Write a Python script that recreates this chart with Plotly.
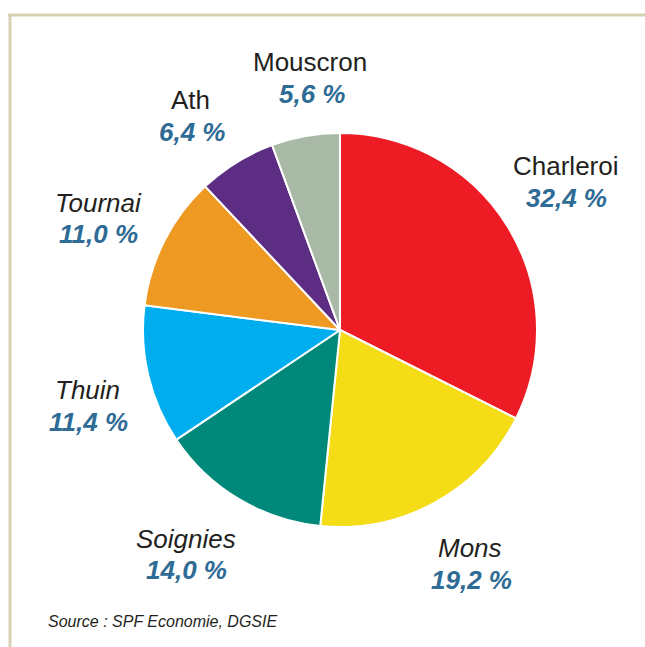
import plotly.graph_objects as go

# Data
regions = ["Charleroi", "Mons", "Soignies", "Thuin", "Tournai", "Ath", "Mouscron"]
shares = [32.4, 19.2, 14.0, 11.4, 11.0, 6.4, 5.6]
italic_names = [False, True, True, True, True, False, False]
colors = ["#ed1c24", "#f4dc17", "#00897b", "#00aeef", "#ee9a22", "#5c2d82", "#a8b9a6"]

# Label placement (pixel centres: name, percentage)
W, H = 645, 647
label_pos = {
    "Charleroi": ((566, 166), (566, 198)),
    "Mons": ((470, 548), (471, 580)),
    "Soignies": ((186, 539), (186, 570)),
    "Thuin": ((87, 390), (88, 422)),
    "Tournai": ((98, 203), (98, 234)),
    "Ath": ((190, 100), (192, 132)),
    "Mouscron": ((310, 62), (312, 94)),
}

FONT = "Arial, Liberation Sans, sans-serif"
PCT_COLOR = "#2e6b95"

fig = go.Figure(go.Pie(
    labels=regions,
    values=shares,
    sort=False,
    direction="clockwise",
    rotation=0,
    marker=dict(colors=colors, line=dict(color="white", width=2)),
    textinfo="none",
    hoverinfo="label+percent",
    domain=dict(x=[(340 - 197) / W, (340 + 197) / W], y=[1 - 527 / H, 1 - 133 / H]),
    showlegend=False,
))

annotations = []
for name, val, ital in zip(regions, shares, italic_names):
    (nx, ny), (px, py) = label_pos[name]
    txt = f"<i>{name}</i>" if ital else name
    annotations.append(dict(
        x=nx / W, y=1 - ny / H, xref="paper", yref="paper", text=txt,
        showarrow=False, xanchor="center", yanchor="middle",
        font=dict(family=FONT, size=26, color="#231f20"),
    ))
    pct = f"{val:.1f}".replace(".", ",") + " %"
    annotations.append(dict(
        x=px / W, y=1 - py / H, xref="paper", yref="paper", text=f"<b><i>{pct}</i></b>",
        showarrow=False, xanchor="center", yanchor="middle",
        font=dict(family=FONT, size=26, color=PCT_COLOR),
    ))

annotations.append(dict(
    x=46 / W, y=1 - 621 / H, xref="paper", yref="paper",
    text="<i>Source : SPF Economie, DGSIE</i>", showarrow=False,
    xanchor="left", yanchor="middle",
    font=dict(family=FONT, size=16, color="#231f20"),
))

border = "#d6d2b4"
shapes = [
    dict(type="line", xref="paper", yref="paper", x0=8 / W, x1=1, y0=1 - 15 / H, y1=1 - 15 / H,
         line=dict(color=border, width=3)),
    dict(type="line", xref="paper", yref="paper", x0=10 / W, x1=10 / W, y0=0, y1=1 - 14 / H,
         line=dict(color=border, width=3)),
]

fig.update_layout(
    width=W, height=H,
    margin=dict(l=0, r=0, t=0, b=0),
    paper_bgcolor="white", plot_bgcolor="white",
    annotations=annotations, shapes=shapes,
)

fig.write_html(
    "out.html",
    config={"displayModeBar": False},
    post_script="document.body.style.margin='0';document.body.style.overflow='hidden';",
)
